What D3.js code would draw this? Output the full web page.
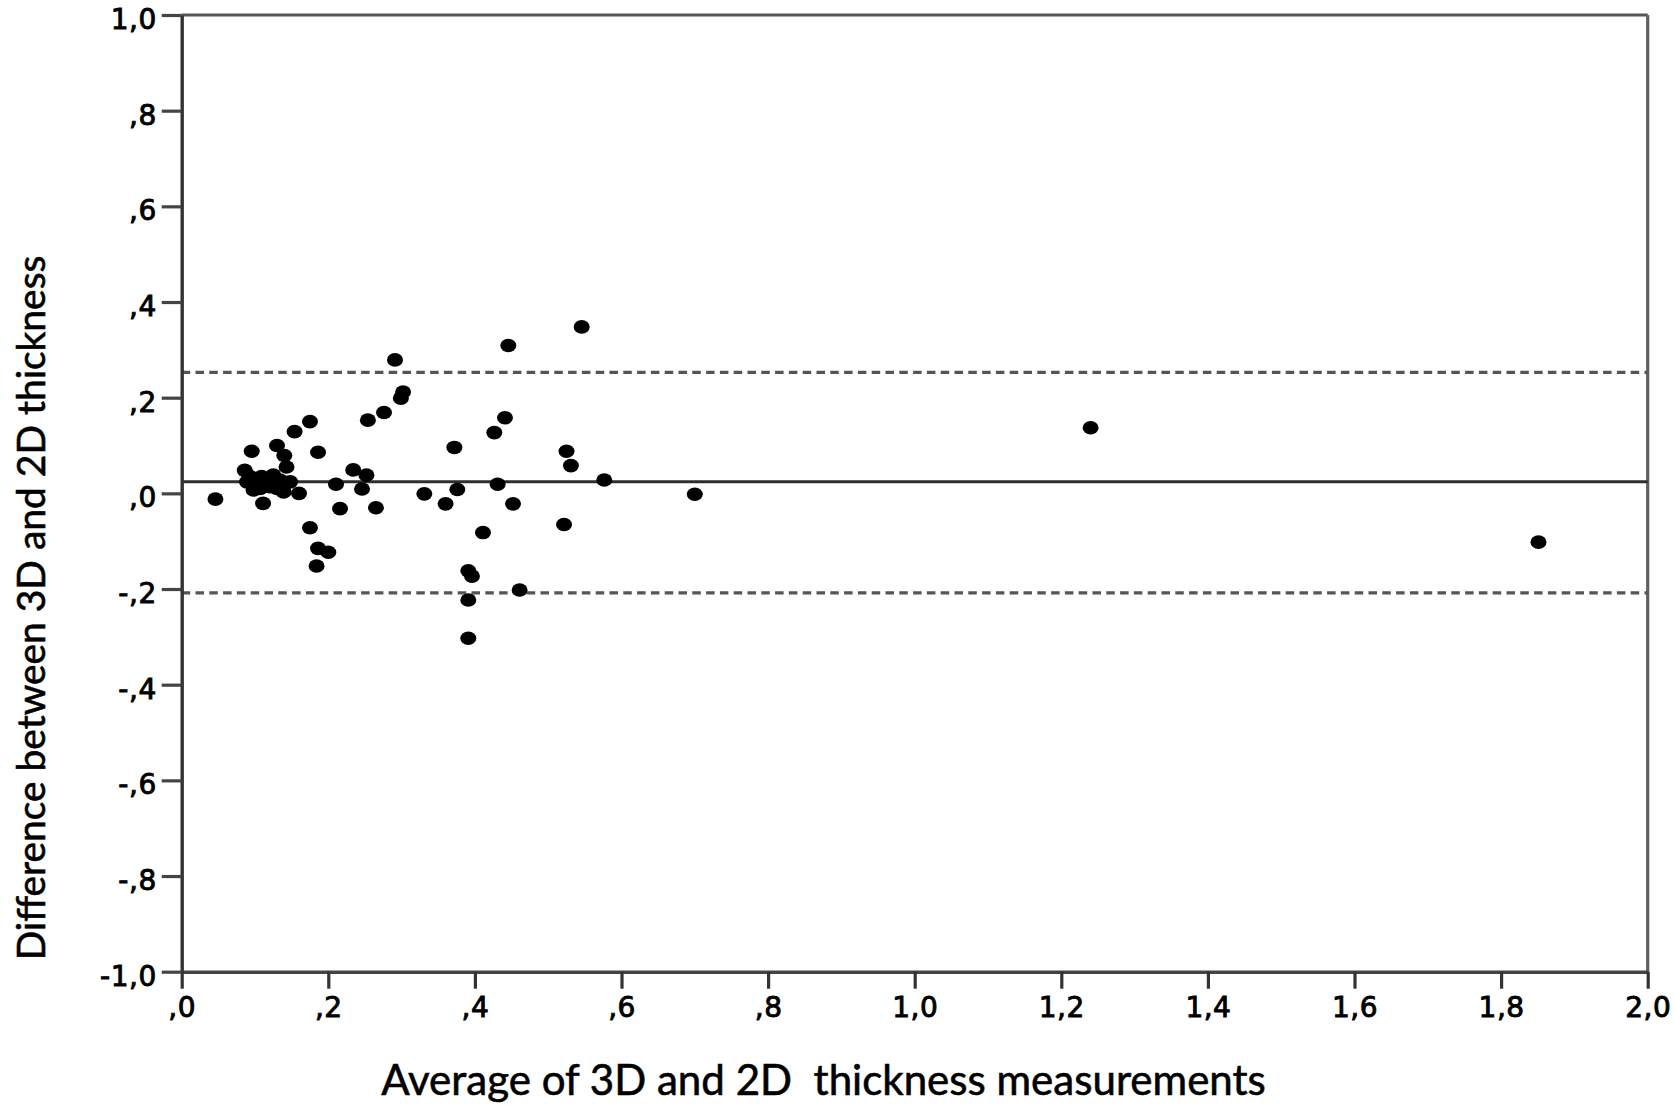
<!DOCTYPE html>
<html>
<head>
<meta charset="utf-8">
<script src="https://cdn.jsdelivr.net/npm/d3@7"></script>
<style>
  html, body { margin: 0; padding: 0; background: #fff; }
  svg { display: block; }
</style>
</head>
<body>
<svg id="chart" width="1675" height="1105"></svg>
<script>
// ---- data ----
const avgValues = [
  0.046, 0.0955, 0.130, 0.140, 0.143, 0.186, 0.086,
  0.093, 0.100, 0.107, 0.098, 0.116, 0.125, 0.120, 0.134, 0.139, 0.148, 0.109, 0.130, 0.089,
  0.111, 0.160, 0.154, 0.175, 0.175, 0.186, 0.200, 0.184,
  0.2105, 0.216, 0.234, 0.252, 0.246, 0.254, 0.265, 0.276, 0.291, 0.302, 0.299,
  0.331, 0.360, 0.372, 0.376, 0.411, 0.391, 0.396, 0.391, 0.391,
  0.4265, 0.441, 0.4456, 0.431, 0.452, 0.461,
  0.5216, 0.525, 0.531, 0.5457, 0.5765, 0.700, 1.240, 1.851
];
const diffValues = [
  -0.012, 0.088, 0.100, 0.079, 0.055, 0.086, 0.048,
  0.035, 0.021, 0.010, 0.007, 0.028, 0.038, 0.014, 0.028, 0.003, 0.024, 0.035, 0.010, 0.024,
  -0.021, 0.000, 0.129, 0.150, -0.072, -0.115, -0.123, -0.152,
  0.019, -0.032, 0.049, 0.038, 0.009, 0.153, -0.030, 0.169, 0.279, 0.212, 0.199,
  -0.001, -0.022, 0.096, 0.008, -0.082, -0.162, -0.173, -0.223, -0.303,
  0.127, 0.158, 0.309, 0.019, -0.022, -0.202,
  -0.065, 0.088, 0.058, 0.348, 0.028, -0.002, 0.137, -0.102
];
const meanDiff = 0.024;
const upperLimit = 0.253;
const lowerLimit = -0.208;
const xTicks = [0, 0.2, 0.4, 0.6, 0.8, 1.0, 1.2, 1.4, 1.6, 1.8, 2.0];
const yTicks = [-1.0, -0.8, -0.6, -0.4, -0.2, 0, 0.2, 0.4, 0.6, 0.8, 1.0];
const xTitle = "Average of 3D and 2D\u00A0 thickness measurements";
const yTitle = "Difference between 3D and 2D thickness";

// SPSS-style label: comma decimal, no leading zero
function spssFmt(v) {
  let s = d3.format(".1f")(Math.abs(v));
  if (s.startsWith("0")) s = s.slice(1);
  s = s.replace(".", ",");
  return (v < 0 ? "-" : "") + s;
}

// ---- layout ----
const svg = d3.select("#chart");
const L = 181.7, R = 1647.7, T = 15, B = 971.7;
const x = d3.scaleLinear().domain([0, 2]).range([L, R]);
const y = d3.scaleLinear().domain([-1, 1]).range([B, T]);

const tickFont = "'DejaVu Sans', sans-serif";
const titleFont = "Lato, 'Open Sans', sans-serif";

// frame (top and right)
svg.append("line").attr("x1", L).attr("x2", R).attr("y1", T).attr("y2", T)
  .attr("stroke", "#555").attr("stroke-width", 3.2);
svg.append("line").attr("x1", R).attr("x2", R).attr("y1", T).attr("y2", B)
  .attr("stroke", "#606060").attr("stroke-width", 3.2);

// reference lines
[upperLimit, lowerLimit].forEach(v => {
  svg.append("line").attr("x1", L).attr("x2", R)
    .attr("y1", y(v)).attr("y2", y(v))
    .attr("stroke", "#555").attr("stroke-width", 3.4).attr("stroke-dasharray", "8.5,5.3");
});
svg.append("line").attr("x1", L).attr("x2", R)
  .attr("y1", y(meanDiff)).attr("y2", y(meanDiff))
  .attr("stroke", "#2e2e2e").attr("stroke-width", 3);

// x axis
const xAxis = d3.axisBottom(x).tickValues(xTicks).tickFormat(spssFmt)
  .tickSize(17).tickPadding(8).tickSizeOuter(0);
const gx = svg.append("g").attr("transform", `translate(0,${B})`).call(xAxis);
gx.select(".domain").attr("stroke", "#444").attr("stroke-width", 3.4);
gx.selectAll(".tick line").attr("stroke", "#333").attr("stroke-width", 3.2);
gx.selectAll(".tick text").attr("font-family", tickFont).attr("font-size", 28)
  .attr("letter-spacing", 0.5).attr("fill", "#000")
  .attr("stroke", "#000").attr("stroke-width", 0.9).attr("dy", "0.72em");

// y axis
const yAxis = d3.axisLeft(y).tickValues(yTicks).tickFormat(spssFmt)
  .tickSize(20).tickPadding(5).tickSizeOuter(0);
const gy = svg.append("g").attr("transform", `translate(${L},0)`).call(yAxis);
gy.select(".domain").attr("stroke", "#333").attr("stroke-width", 3.4);
gy.selectAll(".tick line").attr("stroke", "#444").attr("stroke-width", 3.2);
gy.selectAll(".tick text").attr("font-family", tickFont).attr("font-size", 28)
  .attr("letter-spacing", 0.5).attr("fill", "#000")
  .attr("stroke", "#000").attr("stroke-width", 0.9).attr("dy", "0.48em");

// points
const pts = avgValues.map((v, i) => ({ a: v, d: diffValues[i] }));
svg.append("g").selectAll("ellipse").data(pts).join("ellipse")
  .attr("cx", p => x(p.a)).attr("cy", p => y(p.d))
  .attr("rx", 8).attr("ry", 6.8).attr("fill", "#000");

// titles
function fitText(sel, target) {
  const len = sel.node().getComputedTextLength();
  const fs = parseFloat(sel.attr("font-size"));
  sel.attr("font-size", fs * target / len);
}
const xt = svg.append("text").attr("x", 823.5).attr("y", 1095)
  .attr("text-anchor", "middle").attr("font-family", titleFont)
  .attr("font-size", 34).attr("fill", "#000")
  .attr("stroke", "#000").attr("stroke-width", 0.6).text(xTitle);
fitText(xt, 885);
const yt = svg.append("text").attr("transform", "translate(45,608) rotate(-90)")
  .attr("text-anchor", "middle").attr("font-family", titleFont)
  .attr("font-size", 34).attr("fill", "#000")
  .attr("stroke", "#000").attr("stroke-width", 0.6).text(yTitle);
fitText(yt, 705);
</script>
</body>
</html>
